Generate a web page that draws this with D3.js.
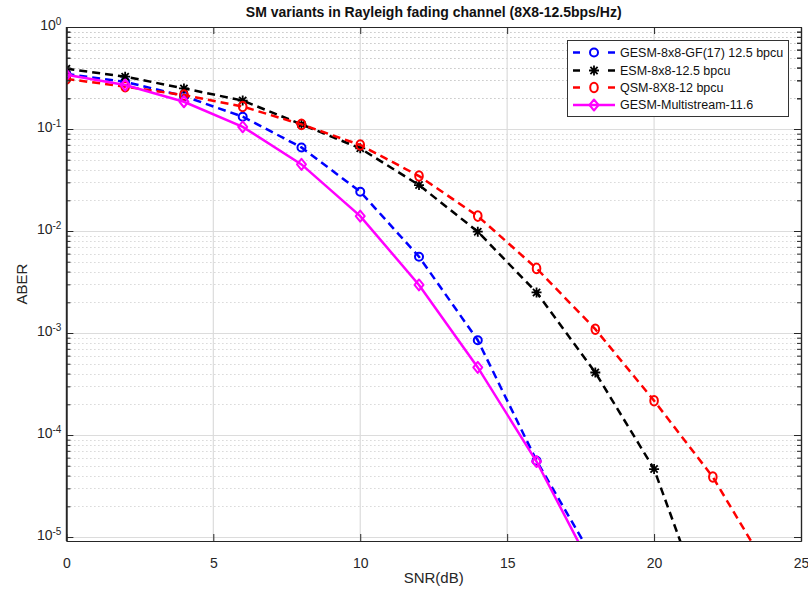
<!DOCTYPE html>
<html>
<head>
<meta charset="utf-8">
<script src="https://cdn.jsdelivr.net/npm/d3@7"></script>
<style>
  body { margin: 0; background: #fff; }
  text { font-family: "Liberation Sans", Arial, Helvetica, sans-serif; }
</style>
</head>
<body>
<svg id="chart" width="808" height="590"></svg>
<script>
// ---- data: average bit error rate vs SNR (dB) ----
const snrGF = [0, 2, 4, 6, 8, 10, 12, 14, 16, 18];
const aberGF = [0.346, 0.29, 0.21, 0.132, 0.066, 0.0243, 0.0056, 0.00085, 5.6e-5, 5.7e-6];

const snrESM = [0, 2, 4, 6, 8, 10, 12, 14, 16, 18, 20, 22];
const aberESM = [0.39, 0.326, 0.25, 0.19, 0.111, 0.0646, 0.0282, 0.00985, 0.0025, 0.00041, 4.64e-5, 1.2e-6];

const snrQSM = [0, 2, 4, 6, 8, 10, 12, 14, 16, 18, 20, 22, 24];
const aberQSM = [0.31, 0.26, 0.215, 0.166, 0.111, 0.0697, 0.0346, 0.014, 0.0043, 0.00109, 0.000217, 3.87e-5, 4.2e-6];

const snrMS = [0, 2, 4, 6, 8, 10, 12, 14, 16, 18];
const aberMS = [0.34, 0.27, 0.185, 0.105, 0.045, 0.014, 0.00296, 0.00046, 5.5e-5, 4.3e-6];

const seriesNames = ["GESM-8x8-GF(17) 12.5 bpcu", "ESM-8x8-12.5 bpcu", "QSM-8X8-12 bpcu", "GESM-Multistream-11.6"];
const xTicks = [0, 5, 10, 15, 20, 25];
const yExponents = [0, -1, -2, -3, -4, -5];

const titleText = "SM variants in Rayleigh fading channel (8X8-12.5bps/Hz)";
const xLabel = "SNR(dB)";
const yLabel = "ABER";

// ---- layout ----
const svg = d3.select("#chart");
const L = 66.4, R = 801, T = 27, B = 541;

const x = d3.scaleLinear().domain([0, 25]).range([L, R]);
const y = d3.scaleLog().domain([Math.pow(10, -5.039), 1]).range([B, T]);

const series = [
  { name: seriesNames[0], xs: snrGF,  ys: aberGF,  color: "#0000ff", dash: "8,5", marker: "circle" },
  { name: seriesNames[1], xs: snrESM, ys: aberESM, color: "#000000", dash: "8,5", marker: "star" },
  { name: seriesNames[2], xs: snrQSM, ys: aberQSM, color: "#ff0000", dash: "8,5", marker: "oval" },
  { name: seriesNames[3], xs: snrMS,  ys: aberMS,  color: "#ff00ff", dash: null,  marker: "diamond" }
];

svg.append("rect").attr("x", L).attr("y", T).attr("width", R - L).attr("height", B - T).attr("fill", "#fff");

// ---- grid ----
const minorVals = [];
yExponents.slice(1).forEach(e => { for (let k = 2; k <= 9; k++) minorVals.push(k * Math.pow(10, e)); });
minorVals.push(...[2,3,4,5,6,7,8,9].map(k => k * 1e-1));
const minorVisible = minorVals.filter(v => v <= 1 && v >= y.domain()[0]);

const grid = svg.append("g");
grid.selectAll("line.ymin").data(minorVisible).join("line")
  .attr("x1", L).attr("x2", R)
  .attr("y1", d => Math.round(y(d)) + 0.5).attr("y2", d => Math.round(y(d)) + 0.5)
  .attr("stroke", "#c4c4c4").attr("stroke-width", 1).attr("stroke-dasharray", "1,3");
grid.selectAll("line.ymaj").data(yExponents.map(e => Math.pow(10, e))).join("line")
  .attr("x1", L).attr("x2", R)
  .attr("y1", d => Math.round(y(d)) + 0.5).attr("y2", d => Math.round(y(d)) + 0.5)
  .attr("stroke", "#dcdcdc").attr("stroke-width", 1.2);
grid.selectAll("line.xmaj").data(xTicks.slice(1, -1)).join("line")
  .attr("x1", d => x(d)).attr("x2", d => x(d))
  .attr("y1", T).attr("y2", B)
  .attr("stroke", "#dcdcdc").attr("stroke-width", 1.2);

// ---- curves ----
svg.append("clipPath").attr("id", "plotClip")
  .append("rect").attr("x", L).attr("y", T).attr("width", R - L).attr("height", B - T);

const plot = svg.append("g").attr("clip-path", "url(#plotClip)");
const line = d3.line().x(d => x(d[0])).y(d => y(d[1]));

function drawMarker(g, type, color) {
  const sw = 2;
  if (type === "circle") {
    g.append("circle").attr("r", 4).attr("fill", "none").attr("stroke", color).attr("stroke-width", sw);
  } else if (type === "oval") {
    g.append("ellipse").attr("rx", 3.8).attr("ry", 4.8).attr("fill", "none").attr("stroke", color).attr("stroke-width", sw);
  } else if (type === "diamond") {
    g.append("path").attr("d", "M0,-5.5L4.5,0L0,5.5L-4.5,0Z").attr("fill", "none").attr("stroke", color).attr("stroke-width", sw)
      .attr("stroke-linejoin", "round");
  } else if (type === "star") {
    const s = 5, d = 3.6;
    g.append("path").attr("d", `M${-s},0L${s},0M0,${-s}L0,${s}M${-d},${-d}L${d},${d}M${-d},${d}L${d},${-d}`)
      .attr("stroke", color).attr("stroke-width", 1.8);
  }
}

series.forEach(s => {
  const pts = s.xs.map((v, i) => [v, s.ys[i]]);
  const p = plot.append("path").datum(pts).attr("d", line)
    .attr("fill", "none").attr("stroke", s.color).attr("stroke-width", 2.5);
  if (s.dash) p.attr("stroke-dasharray", s.dash);
  pts.forEach(d => {
    const g = plot.append("g").attr("transform", `translate(${x(d[0])},${y(d[1])})`);
    drawMarker(g, s.marker, s.color);
  });
});

// ---- axes (inward ticks, boxed) ----
const axisColor = "#262626";
function styleAxis(g) {
  g.select(".domain").attr("stroke", axisColor).attr("stroke-width", 1.2);
  g.selectAll(".tick line").attr("stroke", axisColor).attr("stroke-width", 1);
  g.selectAll("text").attr("fill", "#262626").style("font-size", "14px")
    .style("font-family", '"Liberation Sans", Arial, Helvetica, sans-serif');
}

const xAxis = svg.append("g").attr("transform", `translate(0,${B})`)
  .call(d3.axisBottom(x).tickValues(xTicks).tickSize(-7).tickPadding(17).tickSizeOuter(0).tickFormat(d3.format("d")));
styleAxis(xAxis);

const xAxisTop = svg.append("g").attr("transform", `translate(0,${T})`)
  .call(d3.axisTop(x).tickValues(xTicks).tickSize(-7).tickSizeOuter(0).tickFormat(""));
styleAxis(xAxisTop);

const yAxis = svg.append("g").attr("transform", `translate(${L},0)`)
  .call(d3.axisLeft(y).tickValues(yExponents.map(e => Math.pow(10, e))).tickSize(-7).tickPadding(5).tickSizeOuter(0)
    .tickFormat(() => ""));
styleAxis(yAxis);
yAxis.selectAll(".tick text").each(function(d) {
  const t = d3.select(this);
  const e = Math.round(Math.log10(d));
  t.attr("dy", "0.2em");
  t.append("tspan").text("10");
  t.append("tspan").attr("dy", "-0.55em").style("font-size", "10px").text(String(e));
});

const yMinorAxis = svg.append("g").attr("transform", `translate(${L},0)`)
  .call(d3.axisLeft(y).tickValues(minorVisible).tickSize(-4).tickSizeOuter(0).tickFormat(""));
styleAxis(yMinorAxis);

const yAxisRight = svg.append("g").attr("transform", `translate(${R},0)`)
  .call(d3.axisRight(y).tickValues(yExponents.map(e => Math.pow(10, e))).tickSize(-7).tickSizeOuter(0).tickFormat(""));
styleAxis(yAxisRight);
const yMinorRight = svg.append("g").attr("transform", `translate(${R},0)`)
  .call(d3.axisRight(y).tickValues(minorVisible).tickSize(-4).tickSizeOuter(0).tickFormat(""));
styleAxis(yMinorRight);
svg.append("line").attr("x1", L).attr("x2", L).attr("y1", T).attr("y2", B).attr("stroke", axisColor).attr("stroke-width", 1.2);

// ---- labels ----
svg.append("text").attr("x", (L + R) / 2).attr("y", 17).attr("text-anchor", "middle")
  .style("font-size", "14px").style("font-weight", "bold").attr("fill", "#111").text(titleText);
svg.append("text").attr("x", (L + R) / 2).attr("y", 583).attr("text-anchor", "middle")
  .style("font-size", "15px").attr("fill", "#262626").text(xLabel);
svg.append("text").attr("transform", `translate(27,${(T + B) / 2}) rotate(-90)`).attr("text-anchor", "middle")
  .style("font-size", "15px").attr("fill", "#262626").text(yLabel);

// ---- legend ----
const lg = svg.append("g");
lg.append("rect").attr("x", 567.5).attr("y", 40.5).attr("width", 221).attr("height", 76)
  .attr("fill", "#fff").attr("stroke", "#333").attr("stroke-width", 1);
const rowY = [52.5, 70.5, 87.5, 105];
series.forEach((s, i) => {
  const yy = rowY[i];
  if (s.dash) {
    lg.append("line").attr("x1", 573).attr("x2", 580).attr("y1", yy).attr("y2", yy).attr("stroke", s.color).attr("stroke-width", 2.5);
    lg.append("line").attr("x1", 608).attr("x2", 615).attr("y1", yy).attr("y2", yy).attr("stroke", s.color).attr("stroke-width", 2.5);
  } else {
    lg.append("line").attr("x1", 573).attr("x2", 615).attr("y1", yy).attr("y2", yy).attr("stroke", s.color).attr("stroke-width", 2.5);
  }
  const g = lg.append("g").attr("transform", `translate(594,${yy})`);
  drawMarker(g, s.marker, s.color);
  lg.append("text").attr("x", 620).attr("y", yy).attr("dy", "0.35em")
    .style("font-size", "12.5px").attr("fill", "#111").text(s.name);
});
</script>
</body>
</html>
